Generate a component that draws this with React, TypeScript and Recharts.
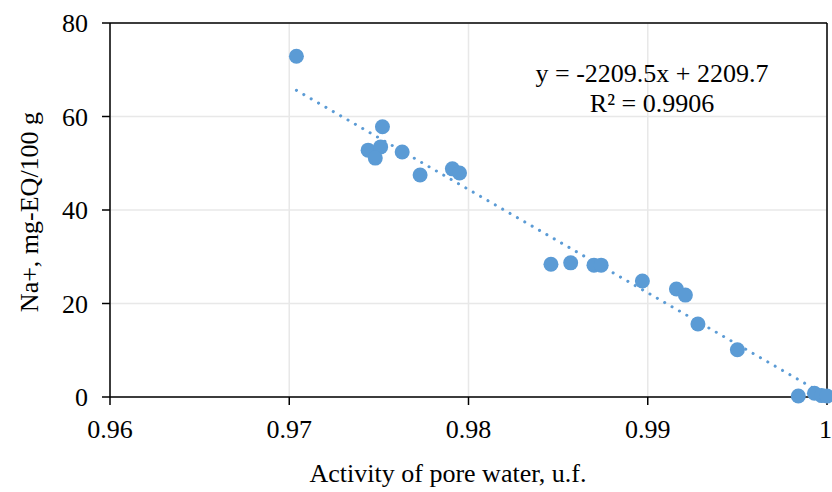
import { ScatterChart, Scatter, XAxis, YAxis, CartesianGrid, ReferenceLine, Label } from 'recharts';

// activity of pore water (u.f.) vs Na+ content (mg-EQ/100 g)
const activity = [
  0.9704, 0.9752, 0.9744, 0.9751, 0.9748, 0.9763, 0.9773, 0.9791, 0.9795,
  0.9846, 0.9857, 0.987, 0.9874, 0.9897, 0.9916, 0.9921, 0.9928, 0.995,
  0.9984, 0.9993, 0.9997, 1.0,
];
const sodium = [
  72.9, 57.8, 52.8, 53.5, 51.1, 52.4, 47.5, 48.8, 47.9,
  28.4, 28.7, 28.2, 28.2, 24.8, 23.1, 21.8, 15.6, 10.1,
  0.2, 0.8, 0.3, 0.2,
];

const xTicks = [0.96, 0.97, 0.98, 0.99, 1];
const yTicks = [0, 20, 40, 60, 80];

// linear trendline shown on the chart
const SLOPE = -2209.5;
const INTERCEPT = 2209.7;
const equationLines = ['y = -2209.5x + 2209.7', 'R² = 0.9906'];

const BLUE = '#5B9BD5';
const FONT = '"Liberation Serif", "Times New Roman", serif';

const points = activity.map((x, i) => ({ x, y: sodium[i] }));
const xMin = Math.min(...activity);
const xMax = Math.max(...activity);
const trend = [xMin, xMax].map((x) => ({ x, y: SLOPE * x + INTERCEPT }));

const tickStyle = { fill: '#000', fontSize: 26, fontFamily: FONT };

const Dot = (props: any) => <circle cx={props.cx} cy={props.cy} r={7.5} fill={BLUE} />;

export default function App() {
  return (
    <div style={{ position: 'absolute', left: 0, top: 0, width: 832, height: 492, background: '#fff' }}>
      <ScatterChart width={832} height={492} margin={{ top: 23, right: 5, left: 0, bottom: 0 }}>
        <CartesianGrid stroke="#e8e8e8" strokeWidth={1.5} />
        <XAxis
          type="number"
          dataKey="x"
          domain={[0.96, 1]}
          ticks={xTicks}
          tickFormatter={(v: number) => (v === 1 ? '1' : v.toFixed(2))}
          height={95}
          tickSize={8}
          tickMargin={15}
          tick={tickStyle}
          stroke="#000"
          strokeWidth={1.5}
        >
          <Label
            content={() => (
              <text x={448} y={482} textAnchor="middle" fontSize={26} fontFamily={FONT} fill="#000">
                Activity of pore water, u.f.
              </text>
            )}
          />
        </XAxis>
        <YAxis
          type="number"
          dataKey="y"
          domain={[0, 80]}
          ticks={yTicks}
          width={110}
          tickSize={8}
          tickMargin={14}
          tick={tickStyle}
          stroke="#000"
          strokeWidth={1.5}
        >
          <Label
            content={() => (
              <text
                x={38}
                y={212}
                transform="rotate(-90 38 212)"
                textAnchor="middle"
                fontSize={26}
                fontFamily={FONT}
                fill="#000"
              >
                Na+, mg-EQ/100 g
              </text>
            )}
          />
        </YAxis>
        <ReferenceLine y={80} stroke="#000" strokeWidth={1.5} />
        <ReferenceLine x={1} stroke="#000" strokeWidth={1.5} />
        <Scatter
          data={trend}
          line={{ stroke: BLUE, strokeWidth: 3, strokeDasharray: '0.1 8.4', strokeLinecap: 'round' }}
          shape={() => null}
          isAnimationActive={false}
        />
        <Scatter data={points} shape={Dot} isAnimationActive={false} />
      </ScatterChart>
      <div
        style={{
          position: 'absolute',
          left: 502,
          top: 59,
          width: 300,
          textAlign: 'center',
          fontFamily: FONT,
          fontSize: 26,
          lineHeight: '30px',
          color: '#000',
        }}
      >
        {equationLines.map((t) => (
          <div key={t}>{t}</div>
        ))}
      </div>
    </div>
  );
}
